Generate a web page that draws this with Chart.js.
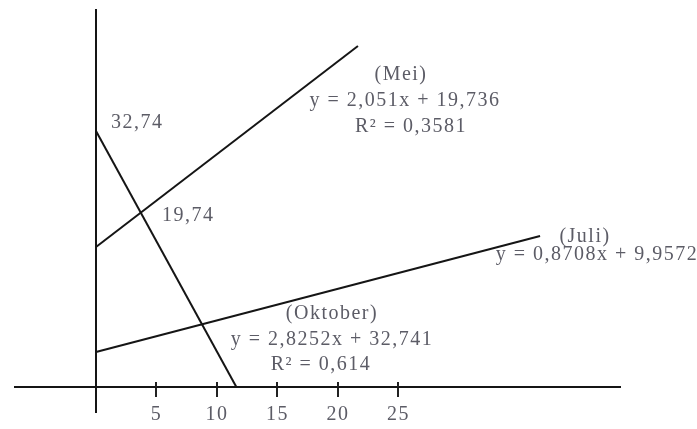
<!DOCTYPE html>
<html><head><meta charset="utf-8">
<script src="https://cdn.jsdelivr.net/npm/chart.js@4/dist/chart.umd.min.js"></script>
<style>html,body{margin:0;padding:0;background:#fff}#wrap{width:697px;height:429px;position:relative}</style>
</head><body><div id="wrap"><canvas id="c"></canvas></div>
<script>
// ---- data ----
const xTicks = [5, 10, 15, 20, 25];
const meiX = [0, 21.65];
const meiY = [17.9, 43.6];
const juliX = [0, 36.7];
const juliY = [4.48, 19.3];
const oktoberX = [0, 11.6];
const oktoberY = [32.74, 0];
const interceptLabels = ['32,74', '19,74'];
const meiText = ['(Mei)', 'y = 2,051x + 19,736', 'R\u00B2 = 0,3581'];
const juliText = ['(Juli)', 'y = 0,8708x + 9,9572'];
const oktoberText = ['(Oktober)', 'y = 2,8252x + 32,741', 'R\u00B2 = 0,614'];

// ---- layout (pixel positions of each text line) ----
const textLayout = [
  {text: interceptLabels[0], x: 111, y: 123, align: 'left'},
  {text: interceptLabels[1], x: 162, y: 216, align: 'left'},
  {text: meiText[0], x: 401, y: 75, align: 'center'},
  {text: meiText[1], x: 405, y: 101, align: 'center'},
  {text: meiText[2], x: 411, y: 127, align: 'center'},
  {text: juliText[0], x: 585, y: 237, align: 'center'},
  {text: juliText[1], x: 597, y: 255, align: 'center'},
  {text: oktoberText[0], x: 332, y: 314, align: 'center'},
  {text: oktoberText[1], x: 332, y: 340, align: 'center'},
  {text: oktoberText[2], x: 321, y: 365, align: 'center'}
];
const TEXT_FONT = '20px "Liberation Serif", "DejaVu Serif", serif';
const TEXT_COLOR = '#5c5c66';
const LETTER_SPACING = '1.5px';

const pts = (xs, ys) => xs.map((x, i) => ({x, y: ys[i]}));
const lineStyle = {showLine: true, borderColor: '#151515', borderWidth: 2, pointRadius: 0, fill: false, tension: 0};

const textPlugin = {
  id: 'texts',
  beforeDraw(chart) {
    try { chart.ctx.letterSpacing = LETTER_SPACING; } catch (e) {}
  },
  afterDatasetsDraw(chart) {
    const ctx = chart.ctx;
    ctx.save();
    ctx.font = TEXT_FONT;
    ctx.fillStyle = TEXT_COLOR;
    ctx.textBaseline = 'middle';
    textLayout.forEach(b => {
      ctx.textAlign = b.align;
      ctx.fillText(b.text, b.x, b.y);
    });
    // upper part of the tick crossings on the x axis
    const xs = chart.scales.x, ys = chart.scales.y;
    const y0 = ys.getPixelForValue(0);
    ctx.strokeStyle = '#222';
    ctx.lineWidth = 2;
    xs.ticks.forEach(t => {
      const px = Math.round(xs.getPixelForValue(t.value));
      ctx.beginPath(); ctx.moveTo(px, y0 - 5); ctx.lineTo(px, y0); ctx.stroke();
    });
    ctx.restore();
  }
};

new Chart(document.getElementById('c'), {
  type: 'scatter',
  data: {
    datasets: [
      Object.assign({label: 'Mei', data: pts(meiX, meiY)}, lineStyle),
      Object.assign({label: 'Juli', data: pts(juliX, juliY)}, lineStyle),
      Object.assign({label: 'Oktober', data: pts(oktoberX, oktoberY)}, lineStyle)
    ]
  },
  options: {
    responsive: true,
    maintainAspectRatio: false,
    animation: false,
    layout: {padding: {left: 15, right: 77, top: 10, bottom: 17}},
    plugins: {legend: {display: false}, tooltip: {enabled: false}},
    scales: {
      x: {
        type: 'linear',
        position: {y: 0},
        min: -6.694, max: 43.306,
        afterBuildTicks: s => { s.ticks = xTicks.map(v => ({value: v})); },
        afterFit: s => { s.height = 0; },
        grid: {display: true, drawOnChartArea: false, drawTicks: true, tickLength: 9, color: '#222', lineWidth: 2},
        border: {display: true, color: '#151515', width: 2},
        ticks: {color: TEXT_COLOR, padding: 7, font: {family: '"Liberation Serif", serif', size: 20}, maxRotation: 0}
      },
      y: {
        type: 'linear',
        position: {x: 0},
        min: -3.197, max: 48.21,
        afterFit: s => { s.width = 0; },
        grid: {display: false, drawTicks: false},
        border: {display: true, color: '#151515', width: 2},
        ticks: {display: false}
      }
    }
  },
  plugins: [textPlugin]
});
</script>
</body></html>
